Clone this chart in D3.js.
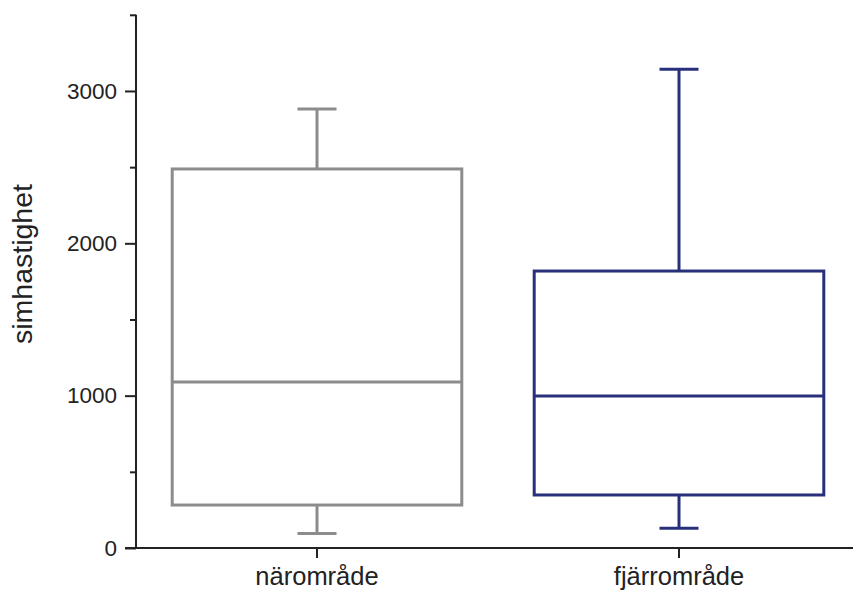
<!DOCTYPE html>
<html>
<head>
<meta charset="utf-8">
<script src="https://cdn.jsdelivr.net/npm/d3@7"></script>
<style>
  html, body { margin: 0; padding: 0; background: #fff; }
  svg { display: block; }
  text { font-family: "Liberation Sans", Arial, sans-serif; fill: #222; }
</style>
</head>
<body>
<script>
// ---- data ----
const categories = ["närområde", "fjärrområde"];
const whiskerLow  = [95, 130];
const q1          = [282, 348];
const median      = [1090, 998];
const q3          = [2488, 1818];
const whiskerHigh = [2882, 3142];
const colors      = ["#8c8c8c", "#28307c"];
const majorTicks  = [0, 1000, 2000, 3000];
const minorTicks  = [500, 1500, 2500, 3500];
const yLabel = "simhastighet";

const W = 853, H = 596;
const svg = d3.select("body").append("svg").attr("width", W).attr("height", H);

const y = d3.scaleLinear().domain([0, 3500]).range([548, 14.8]);
const x = d3.scaleBand().domain(categories).range([136, 860]).paddingInner(0.2).paddingOuter(0.1);

const axisColor = "#222";

// boxes
const data = categories.map((c, i) => ({c, lo: whiskerLow[i], q1: q1[i], med: median[i], q3: q3[i], hi: whiskerHigh[i], col: colors[i]}));
const g = svg.append("g");
const capW = 39;
data.forEach(d => {
  const x0 = x(d.c), bw = x.bandwidth(), cx = x0 + bw / 2;
  const gg = g.append("g").attr("stroke", d.col).attr("stroke-width", 3).attr("fill", "none");
  gg.append("line").attr("x1", cx).attr("x2", cx).attr("y1", y(d.q3)).attr("y2", y(d.hi));
  gg.append("line").attr("x1", cx).attr("x2", cx).attr("y1", y(d.q1)).attr("y2", y(d.lo));
  gg.append("line").attr("x1", cx - capW / 2).attr("x2", cx + capW / 2).attr("y1", y(d.hi)).attr("y2", y(d.hi));
  gg.append("line").attr("x1", cx - capW / 2).attr("x2", cx + capW / 2).attr("y1", y(d.lo)).attr("y2", y(d.lo));
  gg.append("rect").attr("x", x0).attr("y", y(d.q3)).attr("width", bw).attr("height", y(d.q1) - y(d.q3)).attr("fill", "#fff");
  gg.append("line").attr("x1", x0).attr("x2", x0 + bw).attr("y1", y(d.med)).attr("y2", y(d.med));
});

// y axis
const yAxis = svg.append("g").attr("transform", "translate(136,0)")
  .call(d3.axisLeft(y).tickValues(majorTicks).tickSize(11).tickPadding(8).tickFormat(d3.format("d")));
svg.append("g").attr("transform", "translate(136,0)")
  .call(d3.axisLeft(y).tickValues(minorTicks).tickSize(6).tickFormat(""))
  .call(a => a.select(".domain").remove());
svg.selectAll(".tick line, .domain").attr("stroke", axisColor).attr("stroke-width", 2);
yAxis.selectAll("text").attr("font-size", 22.5).attr("fill", "#222").style("font-family", "Liberation Sans, Arial, sans-serif");
yAxis.select(".domain").attr("d", `M0,${y(0)}V${y(3500)}`);

// x axis
const xAxis = svg.append("g").attr("transform", "translate(0,548)")
  .call(d3.axisBottom(x).tickSize(10).tickPadding(9));
xAxis.select(".domain").attr("d", `M125,0H853`).attr("stroke", axisColor).attr("stroke-width", 2);
xAxis.selectAll(".tick line").attr("stroke", axisColor).attr("stroke-width", 2);
xAxis.selectAll("text").attr("font-size", 25.5).attr("fill", "#222").style("font-family", "Liberation Sans, Arial, sans-serif");

// y label
svg.append("text").attr("transform", "translate(32,264) rotate(-90)")
  .attr("text-anchor", "middle").attr("font-size", 28.5).text(yLabel);
</script>
</body>
</html>
